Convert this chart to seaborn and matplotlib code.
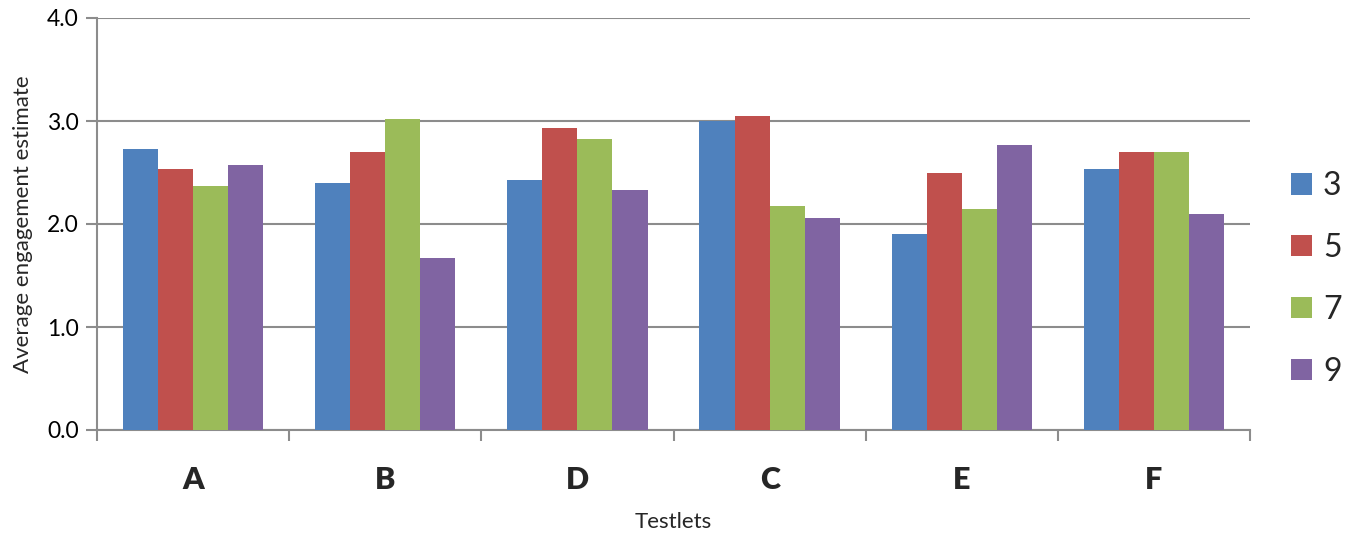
import matplotlib
matplotlib.use("Agg")
import matplotlib.pyplot as plt
import seaborn as sns
import pandas as pd
from matplotlib.ticker import FixedLocator, FormatStrFormatter

# Testlets in display order and the four level series
testlets = ["A", "B", "D", "C", "E", "F"]
levels = ["3", "5", "7", "9"]
level_3 = [2.73, 2.40, 2.43, 3.00, 1.90, 2.53]
level_5 = [2.53, 2.70, 2.93, 3.05, 2.50, 2.70]
level_7 = [2.37, 3.02, 2.83, 2.17, 2.15, 2.70]
level_9 = [2.57, 1.67, 2.33, 2.06, 2.77, 2.10]
y_ticks = [0.0, 1.0, 2.0, 3.0, 4.0]

palette = ["#4F81BD", "#C0504D", "#9BBB59", "#8064A2"]

rows = []
for lvl, vals in zip(levels, [level_3, level_5, level_7, level_9]):
    for t, v in zip(testlets, vals):
        rows.append({"Testlet": t, "Level": lvl, "Estimate": v})
df = pd.DataFrame(rows)

sns.set_theme(style="white")
plt.rcParams["font.family"] = ["Lato", "DejaVu Sans"]

fig = plt.figure(figsize=(13.56, 5.33), dpi=100)
ax = fig.add_axes([97 / 1356, 1 - 430 / 533, (1250 - 97) / 1356, (430 - 18) / 533])

sns.barplot(data=df, x="Testlet", y="Estimate", hue="Level", order=testlets,
            hue_order=levels, palette=palette, width=0.73, saturation=1,
            linewidth=0, errorbar=None, ax=ax, legend=True, zorder=3)

grid_col = "#8C8C8C"
ax.set_ylim(0, 4)
ax.set_xlim(-0.5, len(testlets) - 0.5)
ax.yaxis.set_major_locator(FixedLocator(y_ticks))
ax.yaxis.set_major_formatter(FormatStrFormatter("%.1f"))
ax.grid(axis="y", color=grid_col, linewidth=1.5, zorder=0)
ax.set_axisbelow(True)

for side in ["top", "right"]:
    ax.spines[side].set_visible(False)
for side in ["left", "bottom"]:
    ax.spines[side].set_color(grid_col)
    ax.spines[side].set_linewidth(1.5)

ax.tick_params(axis="y", direction="out", length=8, width=1.5, color=grid_col,
               labelsize=16.5, labelcolor="black", pad=5, left=True)
ax.tick_params(axis="x", which="major", length=0, labelsize=22, pad=26)
ax.set_xticks(range(len(testlets)))
ax.set_xticklabels(testlets, fontweight="heavy")
ax.set_xticks([i - 0.5 for i in range(len(testlets) + 1)], minor=True)
ax.tick_params(axis="x", which="minor", direction="out", length=8, width=1.5,
               color=grid_col, bottom=True)

ax.set_xlabel("Testlets", fontsize=16, labelpad=13)
ax.set_ylabel("Average engagement estimate", fontsize=16, labelpad=10)

handles, labels = ax.get_legend_handles_labels()
ax.get_legend().remove()
fig.legend(handles, labels, loc="center left",
           bbox_to_anchor=(1291 / 1356, 1 - 279 / 533),
           frameon=False, fontsize=23, handlelength=0.65, handleheight=0.65,
           handletextpad=0.35, labelspacing=1.0, borderpad=0, borderaxespad=0)

fig.savefig("out.png", dpi=100)
